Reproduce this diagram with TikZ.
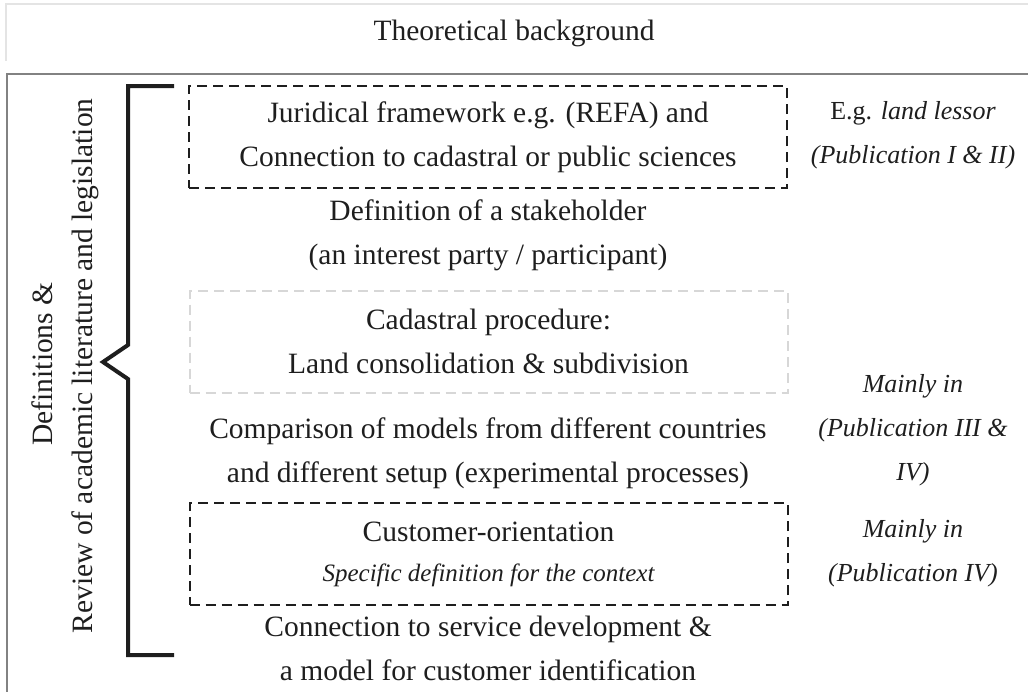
\documentclass[tikz,border=0pt]{standalone}
\usepackage{fontspec}
\setmainfont{Liberation Serif}
\usetikzlibrary{positioning}
\definecolor{frameGray}{RGB}{130,130,130}
\definecolor{paleGray}{RGB}{228,228,228}
\definecolor{boxGray}{RGB}{215,215,215}
\definecolor{inkBlack}{RGB}{30,30,30}

\begin{document}
\begin{tikzpicture}[x=1pt,y=-1pt,
  txt/.style={font=\fontsize{29.5}{44}\selectfont,align=center,inner sep=0pt,text=inkBlack},
  sidetxt/.style={txt,font=\fontsize{26}{44}\selectfont\itshape},
  dashbox/.style={txt,draw=inkBlack,line width=2pt,dash pattern=on 10pt off 6pt,
    minimum width=598pt,minimum height=102pt},
  graybox/.style={dashbox,draw=boxGray}
]
\useasboundingbox (0,0) rectangle (1028,691);

% Top heading frame
\draw[paleGray,line width=1.5pt] (1030,4) -- (6,4) -- (6,61);
\node[txt] (theory) at (514,33) {Theoretical background};

% Main frame
\draw[frameGray,line width=1.2pt] (1030,74) -- (7,74) -- (7,695);

% Left labels
\node[txt,rotate=90] (defs) at (42,364) {Definitions \&};
\node[txt,rotate=90] (review) at (85,366) {Review of academic literature and legislation};

% Curly bracket
\draw[inkBlack,line width=4pt,miter limit=10] (174,86) -- (128,86) -- (128,345)
  -- (103,362) -- (128,379) -- (128,655) -- (174,655);

% Middle column
\node[dashbox] (jurid) at (488,137) {Juridical framework e.g. (REFA) and\\Connection to cadastral or public sciences};
\node[txt] (stake) at (488,235) {Definition of a stakeholder\\(an interest party / participant)};
\node[graybox] (cadas) at (488.5,341.5) {Cadastral procedure:\\Land consolidation \& subdivision};
\node[txt] (compar) at (488,453.5) {Comparison of models from different countries\\and different setup (experimental processes)};
\node[dashbox,font=\fontsize{29.5}{40}\selectfont] (custom) at (488.5,554) {Customer-orientation\\{\fontsize{25}{40}\selectfont\itshape Specific definition for the context}};
\node[txt] (service) at (488,648.5) {Connection to service development \&\\a model for customer identification};

% Right column
\node[sidetxt] (lessor) at (913,135.5) {\upshape E.g. \itshape land lessor\\(Publication I \& II)};
\node[sidetxt] (pubthree) at (913,430) {Mainly in\\(Publication III \&\\IV)};
\node[sidetxt] (pubfour) at (913,553.5) {Mainly in\\(Publication IV)};

\end{tikzpicture}
\end{document}
